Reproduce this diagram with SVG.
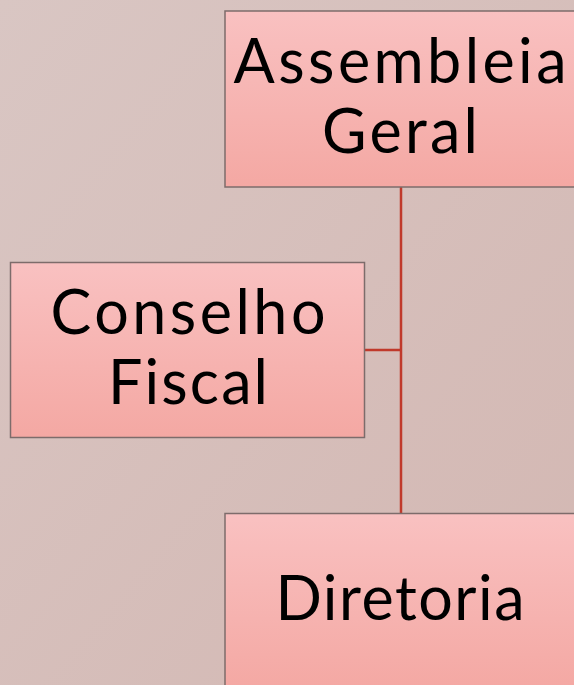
<svg xmlns="http://www.w3.org/2000/svg" width="574" height="685" viewBox="0 0 574 685">
<defs>
<linearGradient id="bg" x1="0" y1="0" x2="1" y2="1">
<stop offset="0" stop-color="#d9c6c3"/>
<stop offset="1" stop-color="#d3b7b2"/>
</linearGradient>
<linearGradient id="box" x1="0" y1="0" x2="0" y2="1">
<stop offset="0" stop-color="#f9c1c1"/>
<stop offset="1" stop-color="#f4a8a3"/>
</linearGradient>
</defs>
<style>
.node rect{fill:url(#box);stroke:#7d6c6b;stroke-width:1.5}
.node text{font-family:Lato,"Noto Sans",sans-serif;font-size:61px;font-weight:400;fill:#000;text-anchor:middle}
.conn{stroke:#c0392b;stroke-width:2.5;fill:none}
</style>
<rect width="574" height="685" fill="url(#bg)"/>
<g id="connectors">
<path class="conn" d="M401 187V513"/>
<path class="conn" d="M365 350H401"/>
</g>
<g id="assembleia" class="node">
<rect x="225" y="11" width="352" height="176"/>
<text x="400" y="83" textLength="333" lengthAdjust="spacing">Assembleia</text>
<text x="400" y="153" textLength="156" lengthAdjust="spacing">Geral</text>
</g>
<g id="conselho" class="node">
<rect x="10.5" y="262.5" width="354" height="175"/>
<text x="188" y="334" textLength="275" lengthAdjust="spacing">Conselho</text>
<text x="188" y="404" textLength="160" lengthAdjust="spacing">Fiscal</text>
</g>
<g id="diretoria" class="node">
<rect x="225" y="513.5" width="352" height="176"/>
<text x="400" y="620" textLength="249" lengthAdjust="spacing">Diretoria</text>
</g>
</svg>
